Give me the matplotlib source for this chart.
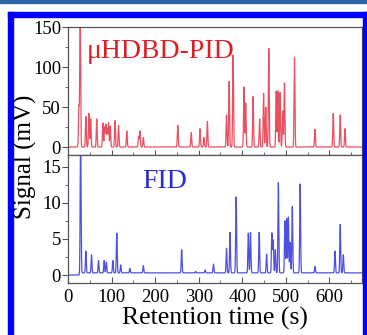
import numpy as np
import matplotlib
matplotlib.use('Agg')
import matplotlib.pyplot as plt
import matplotlib.patches as mpatches
from matplotlib.ticker import MultipleLocator

# peak retention times (s) and heights
pid_times = [25, 28, 41, 48, 52, 66, 80, 84, 87, 90, 93, 97, 108, 116, 135,
             162, 165, 173, 252, 283, 303, 312, 320, 364, 370, 379, 404, 408,
             425, 440, 449, 454, 461, 478, 482, 487, 493, 497, 520, 567, 609,
             625, 636]
pid_heights = [50, 175, 38, 42, 35, 35, 30, 25, 28, 22, 30, 26, 33, 27, 20,
               13, 20, 12, 27, 18, 23, 12, 32, 40, 82, 115, 75, 55,
               63, 35, 67, 50, 123, 70, 70, 68, 45, 80, 112, 22, 42,
               40, 23]

fid_times = [29, 41, 54, 70, 83, 88, 103, 112, 121, 142, 173, 261, 293, 315,
             334, 364, 372, 386, 414, 419, 439, 456, 468, 471, 476, 483, 498,
             502, 506, 510, 515, 533, 567, 613, 625, 632]
fid_heights = [20, 3.0, 2.5, 1.7, 1.7, 1.5, 1.7, 5.5, 1.1, 0.6, 1.0, 3.2, 0.2,
               0.4, 1.2, 3.4, 5.6, 10.5, 5.5, 5.6, 5.6, 2.6, 5.5, 4.5, 3.2,
               12.5, 7.2, 7.5, 7.7, 4.2, 9.2, 12.3, 0.9, 3.0, 6.7, 2.5]
fid_baseline = 0.3


def chromatogram(t, times, heights, width, base=0.0, start=0.0):
    y = np.where(t > start, base, 0.0)
    for t0, h in zip(times, heights):
        y = y + h * np.exp(-0.5 * ((t - t0) / width) ** 2)
    return y


plt.rcParams['font.family'] = ['Liberation Serif', 'DejaVu Serif']

W, H = 367, 335
fig = plt.figure(figsize=(W / 100, H / 100), dpi=100)

# page decoration: dark band on top and blue frame
fig.patches.append(mpatches.Rectangle((0, 1 - 2.5 / H), 1, 2.5 / H,
                   transform=fig.transFigure, color='#2f66a8', zorder=0))
for x0, y0, w, h in [(8, 12, 5, 323), (8, 12, 359, 5), (363, 12, 4, 323)]:
    fig.patches.append(mpatches.Rectangle((x0 / W, 1 - (y0 + h) / H), w / W, h / H,
                       transform=fig.transFigure, color='#0000ff', zorder=0))

left, right = 68 / W, 362 / W
ax1 = fig.add_axes([left, 1 - 155 / H, right - left, 128 / H])
ax2 = fig.add_axes([left, 1 - 283 / H, right - left, 128 / H], sharex=ax1)

t = np.arange(0, 676, 0.1)
ax1.plot(t, chromatogram(t, pid_times, pid_heights, 1.0), color='#ec5060', lw=0.9)
ax2.plot(t, chromatogram(t, fid_times, fid_heights, 1.0, fid_baseline, 30),
         color='#5050e0', lw=0.9)

ax1.set_xlim(0, 675)
ax1.set_ylim(-10, 150)
ax2.set_ylim(-1.1, 16.6)

ax1.yaxis.set_major_locator(MultipleLocator(50))
ax1.yaxis.set_minor_locator(MultipleLocator(25))
ax2.yaxis.set_major_locator(MultipleLocator(5))
ax2.yaxis.set_minor_locator(MultipleLocator(2.5))
ax2.xaxis.set_major_locator(MultipleLocator(100))
ax2.xaxis.set_minor_locator(MultipleLocator(50))

for ax in (ax1, ax2):
    for s in ax.spines.values():
        s.set_color('#555555')
        s.set_linewidth(0.9)
    ax.tick_params(axis='y', which='major', direction='out', length=4,
                   labelsize=13.5, color='#555555', pad=1)
    ax.tick_params(axis='y', which='minor', direction='out', length=2, color='#555555')
ax1.tick_params(axis='x', which='major', direction='inout', length=7,
                labelbottom=False, color='#555555')
ax1.tick_params(axis='x', which='minor', direction='inout', length=4, color='#555555')
ax2.tick_params(axis='x', which='major', direction='in', length=4,
                labelsize=13.5, color='#555555', pad=4)
ax2.tick_params(axis='x', which='minor', direction='in', length=2, color='#555555')

ax1.text(43, 119, '\u03bcHDBD-PID', color='#dd1f25', fontsize=20, va='center', ha='left')
ax2.text(170, 12.9, 'FID', color='#2a2ad0', fontsize=20, va='center', ha='left')

ax2.set_xlabel('Retention time (s)', fontsize=18.5, labelpad=1)
fig.text(25 / W, 1 - 157 / H, 'Signal (mV)', rotation=90, fontsize=18,
         ha='center', va='center')

fig.savefig('out.png', dpi=100)
